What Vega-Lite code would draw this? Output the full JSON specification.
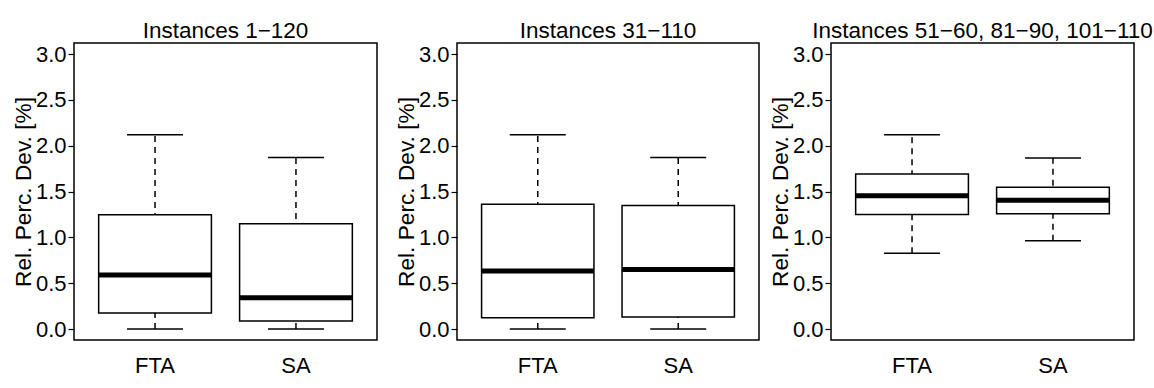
{
  "$schema": "https://vega.github.io/schema/vega-lite/v6.json",
  "background": "white",
  "padding": {"left": 11, "top": 18, "right": 0, "bottom": 5},
  "bounds": "full",
  "spacing": 16,
  "config": {
    "font": "Liberation Sans",
    "view": {"stroke": "black", "strokeWidth": 1.5, "fill": "white"},
    "title": {"fontSize": 22.5, "fontWeight": "normal", "color": "black", "offset": 1, "frame": "group", "font": "Liberation Sans"},
    "tick": {"opacity": 1},
    "axisX": {"title": null, "labelAngle": 0, "ticks": false, "domain": false, "labelFontSize": 22, "labelColor": "black", "labelPadding": 15, "grid": false},
    "axisY": {"domain": false, "grid": false, "tickSize": 6, "tickColor": "black", "tickWidth": 1.2, "labelPadding": 2, "labelFontSize": 22, "labelColor": "black", "titleFontSize": 22.7, "titleFontWeight": "normal", "titleColor": "black", "titlePadding": 0, "values": [0, 0.5, 1, 1.5, 2, 2.5, 3], "format": ".1f"}
  },
  "datasets": {
    "stats": [
      {"panel": "A", "algo": "FTA", "lower": 0.0, "q1": 0.174, "median": 0.59, "q3": 1.247, "upper": 2.12},
      {"panel": "A", "algo": "SA", "lower": 0.0, "q1": 0.087, "median": 0.34, "q3": 1.149, "upper": 1.87},
      {"panel": "B", "algo": "FTA", "lower": 0.0, "q1": 0.123, "median": 0.634, "q3": 1.362, "upper": 2.12},
      {"panel": "B", "algo": "SA", "lower": 0.0, "q1": 0.13, "median": 0.65, "q3": 1.348, "upper": 1.87},
      {"panel": "C", "algo": "FTA", "lower": 0.826, "q1": 1.25, "median": 1.453, "q3": 1.69, "upper": 2.12},
      {"panel": "C", "algo": "SA", "lower": 0.964, "q1": 1.258, "median": 1.405, "q3": 1.547, "upper": 1.866}
    ]
  },
  "hconcat": [
    {
      "title": "Instances 1\u2212120",
      "width": 303, "height": 297,
      "data": {"name": "stats"},
      "transform": [{"filter": "datum.panel == 'A'"}],
      "encoding": {"x": {"field": "algo", "type": "nominal", "sort": ["FTA", "SA"], "scale": {"paddingInner": 0.2, "paddingOuter": 0.175}}},
      "layer": [
        {"mark": {"type": "rule", "strokeDash": [6, 5], "strokeWidth": 1.5, "color": "black"}, "encoding": {"y": {"field": "lower", "type": "quantitative", "scale": {"domain": [-0.12, 3.12], "nice": false, "zero": false}, "title": "Rel. Perc. Dev. [%]"}, "y2": {"field": "upper"}}},
        {"mark": {"type": "bar", "fill": "white", "stroke": "black", "strokeWidth": 1.5}, "encoding": {"y": {"field": "q1", "type": "quantitative"}, "y2": {"field": "q3"}}},
        {"mark": {"type": "tick", "color": "black", "size": 112, "thickness": 5}, "encoding": {"y": {"field": "median", "type": "quantitative"}}},
        {"mark": {"type": "tick", "color": "black", "size": 56, "thickness": 1.5}, "encoding": {"y": {"field": "upper", "type": "quantitative"}}},
        {"mark": {"type": "tick", "color": "black", "size": 56, "thickness": 1.5}, "encoding": {"y": {"field": "lower", "type": "quantitative"}}}
      ]
    },
    {
      "spacing": 8,
      "bounds": "full",
      "hconcat": [
        {
          "title": "Instances 31\u2212110",
          "width": 302, "height": 297,
          "data": {"name": "stats"},
          "transform": [{"filter": "datum.panel == 'B'"}],
          "encoding": {"x": {"field": "algo", "type": "nominal", "sort": ["FTA", "SA"], "scale": {"paddingInner": 0.2, "paddingOuter": 0.175}}},
          "layer": [
            {"mark": {"type": "rule", "strokeDash": [6, 5], "strokeWidth": 1.5, "color": "black"}, "encoding": {"y": {"field": "lower", "type": "quantitative", "scale": {"domain": [-0.12, 3.12], "nice": false, "zero": false}, "title": "Rel. Perc. Dev. [%]"}, "y2": {"field": "upper"}}},
            {"mark": {"type": "bar", "fill": "white", "stroke": "black", "strokeWidth": 1.5}, "encoding": {"y": {"field": "q1", "type": "quantitative"}, "y2": {"field": "q3"}}},
            {"mark": {"type": "tick", "color": "black", "size": 112, "thickness": 5}, "encoding": {"y": {"field": "median", "type": "quantitative"}}},
            {"mark": {"type": "tick", "color": "black", "size": 56, "thickness": 1.5}, "encoding": {"y": {"field": "upper", "type": "quantitative"}}},
            {"mark": {"type": "tick", "color": "black", "size": 56, "thickness": 1.5}, "encoding": {"y": {"field": "lower", "type": "quantitative"}}}
          ]
        },
        {
          "title": "Instances 51\u221260, 81\u221290, 101\u2212110",
          "width": 303, "height": 297,
          "data": {"name": "stats"},
          "transform": [{"filter": "datum.panel == 'C'"}],
          "encoding": {"x": {"field": "algo", "type": "nominal", "sort": ["FTA", "SA"], "scale": {"paddingInner": 0.2, "paddingOuter": 0.175}}},
          "layer": [
            {"mark": {"type": "rule", "strokeDash": [6, 5], "strokeWidth": 1.5, "color": "black"}, "encoding": {"y": {"field": "lower", "type": "quantitative", "scale": {"domain": [-0.12, 3.12], "nice": false, "zero": false}, "title": "Rel. Perc. Dev. [%]"}, "y2": {"field": "upper"}}},
            {"mark": {"type": "bar", "fill": "white", "stroke": "black", "strokeWidth": 1.5}, "encoding": {"y": {"field": "q1", "type": "quantitative"}, "y2": {"field": "q3"}}},
            {"mark": {"type": "tick", "color": "black", "size": 112, "thickness": 5}, "encoding": {"y": {"field": "median", "type": "quantitative"}}},
            {"mark": {"type": "tick", "color": "black", "size": 56, "thickness": 1.5}, "encoding": {"y": {"field": "upper", "type": "quantitative"}}},
            {"mark": {"type": "tick", "color": "black", "size": 56, "thickness": 1.5}, "encoding": {"y": {"field": "lower", "type": "quantitative"}}}
          ]
        }
      ]
    }
  ]
}
